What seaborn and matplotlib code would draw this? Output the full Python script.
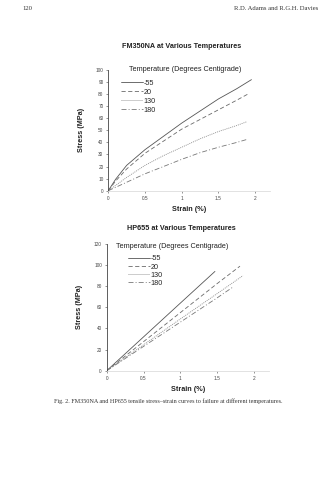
import numpy as np
import pandas as pd
import matplotlib
matplotlib.use("Agg")
import matplotlib.pyplot as plt
import seaborn as sns
from matplotlib.lines import Line2D

sns.set_theme(style="white")
plt.rcParams["font.family"] = ["Liberation Sans", "DejaVu Sans"]

temps = ["-55", "20", "130", "180"]

# FM350NA stress-strain curves (strain %, stress MPa)
fm_strain_m55 = [0, 0.1, 0.25, 0.5, 0.75, 1.0, 1.25, 1.5, 1.75, 1.95]
fm_stress_m55 = [0, 9.5, 21, 34, 45, 56, 66, 76, 84.5, 92]
fm_strain_20 = [0, 0.1, 0.25, 0.5, 0.75, 1.0, 1.25, 1.5, 1.75, 1.9]
fm_stress_20 = [0, 8, 18, 31, 41, 51, 59, 67, 75, 80]
fm_strain_130 = [0, 0.25, 0.5, 0.75, 1.0, 1.25, 1.5, 1.75, 1.88]
fm_stress_130 = [0, 11, 21, 29, 36, 43, 49, 54, 57]
fm_strain_180 = [0, 0.25, 0.5, 0.75, 1.0, 1.25, 1.5, 1.75, 1.89]
fm_stress_180 = [0, 7, 14, 20, 26, 31.5, 36, 40, 42.5]

# HP655 stress-strain curves
hp_strain_m55 = [0, 0.5, 1.0, 1.47]
hp_stress_m55 = [0, 32, 64, 94]
hp_strain_20 = [0, 0.5, 1.0, 1.5, 1.81]
hp_stress_20 = [0, 27.5, 55, 82.5, 99]
hp_strain_130 = [0, 0.5, 1.0, 1.5, 1.85]
hp_stress_130 = [0, 24.5, 49, 73, 90]
hp_strain_180 = [0, 0.5, 1.0, 1.5, 1.71]
hp_stress_180 = [0, 23, 46, 69, 79]

x_ticks = [0, 0.5, 1, 1.5, 2]
x_ticklabels = ["0", "0.5", "1", "1.5", "2"]
fm_yticks = list(range(0, 101, 10))
hp_yticks = list(range(0, 121, 20))


def to_frame(strains, stresses):
    rows = []
    for t, xs, ys in zip(temps, strains, stresses):
        for x, y in zip(xs, ys):
            rows.append({"Temperature": t, "Strain": x, "Stress": y})
    return pd.DataFrame(rows)


fm_df = to_frame([fm_strain_m55, fm_strain_20, fm_strain_130, fm_strain_180],
                 [fm_stress_m55, fm_stress_20, fm_stress_130, fm_stress_180])
hp_df = to_frame([hp_strain_m55, hp_strain_20, hp_strain_130, hp_strain_180],
                 [hp_stress_m55, hp_stress_20, hp_stress_130, hp_stress_180])

palette = {"-55": "#555555", "20": "#6a6a6a", "130": "#8a8a8a", "180": "#777777"}
dashes = {"-55": "", "20": (5, 3), "130": (1.2, 1.2), "180": (6, 2.5, 1.2, 2.5)}

fig = plt.figure(figsize=(3.36, 4.80), dpi=100)
fig.patch.set_facecolor("white")

ax1 = fig.add_axes([0.3223, 0.6027, 0.4807, 0.2515])
ax2 = fig.add_axes([0.3176, 0.2277, 0.4821, 0.2640])


def style_axes(ax, yticks, ymax):
    ax.set_xlim(0, 2.2)
    ax.set_ylim(0, ymax)
    ax.set_xticks(x_ticks)
    ax.set_xticklabels(x_ticklabels)
    ax.set_yticks(yticks)
    ax.set_yticklabels([str(v) for v in yticks])
    for s in ["top", "right"]:
        ax.spines[s].set_visible(False)
    ax.spines["left"].set_color("#444444")
    ax.spines["left"].set_linewidth(0.6)
    ax.spines["bottom"].set_color("#dddddd")
    ax.spines["bottom"].set_linewidth(0.6)
    ax.tick_params(axis="both", labelsize=3.4, length=1.5, width=0.4,
                   colors="#444444", pad=2)
    ax.tick_params(axis="both", direction="out", left=True, bottom=True)
    ax.set_xlabel("Strain (%)", fontsize=5.2, fontweight="bold", color="#222222", labelpad=4)
    ax.set_ylabel("Stress (MPa)", fontsize=5.2, fontweight="bold", color="#222222", labelpad=8)
    ax.set_facecolor("white")


for ax, df in [(ax1, fm_df), (ax2, hp_df)]:
    sns.lineplot(data=df, x="Strain", y="Stress", hue="Temperature", style="Temperature",
                 hue_order=temps, style_order=temps, palette=palette, dashes=dashes,
                 estimator=None, sort=False, linewidth=0.6, ax=ax, legend=False)

style_axes(ax1, fm_yticks, 100)
style_axes(ax2, hp_yticks, 120)

handles = [Line2D([0], [0], color=palette[t], lw=0.6, dashes=dashes[t] if dashes[t] else (None, None))
           for t in temps]
for h, t in zip(handles, temps):
    if dashes[t] == "":
        h.set_linestyle("-")

# Legends with a separate left-aligned title line
ax1.text(0.13, 1.0, "Temperature (Degrees Centigrade)", transform=ax1.transAxes,
         fontsize=5.2, color="#222222", va="center", ha="left")
ax1.legend(handles, temps, loc="upper left", bbox_to_anchor=(0.05, 0.96), frameon=False,
           fontsize=5.2, handlelength=3.0, handletextpad=0.1, labelspacing=0.25,
           borderpad=0.2)
ax2.text(0.06, 0.98, "Temperature (Degrees Centigrade)", transform=ax2.transAxes,
         fontsize=5.2, color="#222222", va="center", ha="left")
ax2.legend(handles, temps, loc="upper left", bbox_to_anchor=(0.10, 0.95), frameon=False,
           fontsize=5.2, handlelength=3.0, handletextpad=0.1, labelspacing=0.15,
           borderpad=0.2)

# Titles, page header and caption
fig.text(0.54, 1 - 47 / 480, "FM350NA at Various Temperatures", fontsize=5.2,
         fontweight="bold", ha="center", va="center", color="#222222")
fig.text(0.54, 1 - 228 / 480, "HP655 at Various Temperatures", fontsize=5.2,
         fontweight="bold", ha="center", va="center", color="#222222")
fig.text(22 / 336, 1 - 8 / 480, "120", fontsize=4.8, family=["Liberation Serif"],
         ha="left", va="center", color="#333333")
fig.text(318 / 336, 1 - 8 / 480, "R.D. Adams and R.G.H. Davies", fontsize=4.8,
         family=["Liberation Serif"], ha="right", va="center", color="#333333")
fig.text(168 / 336, 1 - 401 / 480,
         "Fig. 2. FM350NA and HP655 tensile stress\u2013strain curves to failure at different temperatures.",
         fontsize=4.4, family=["Liberation Serif"], ha="center", va="center", color="#333333")

fig.savefig("out.png", dpi=100, facecolor="white")
